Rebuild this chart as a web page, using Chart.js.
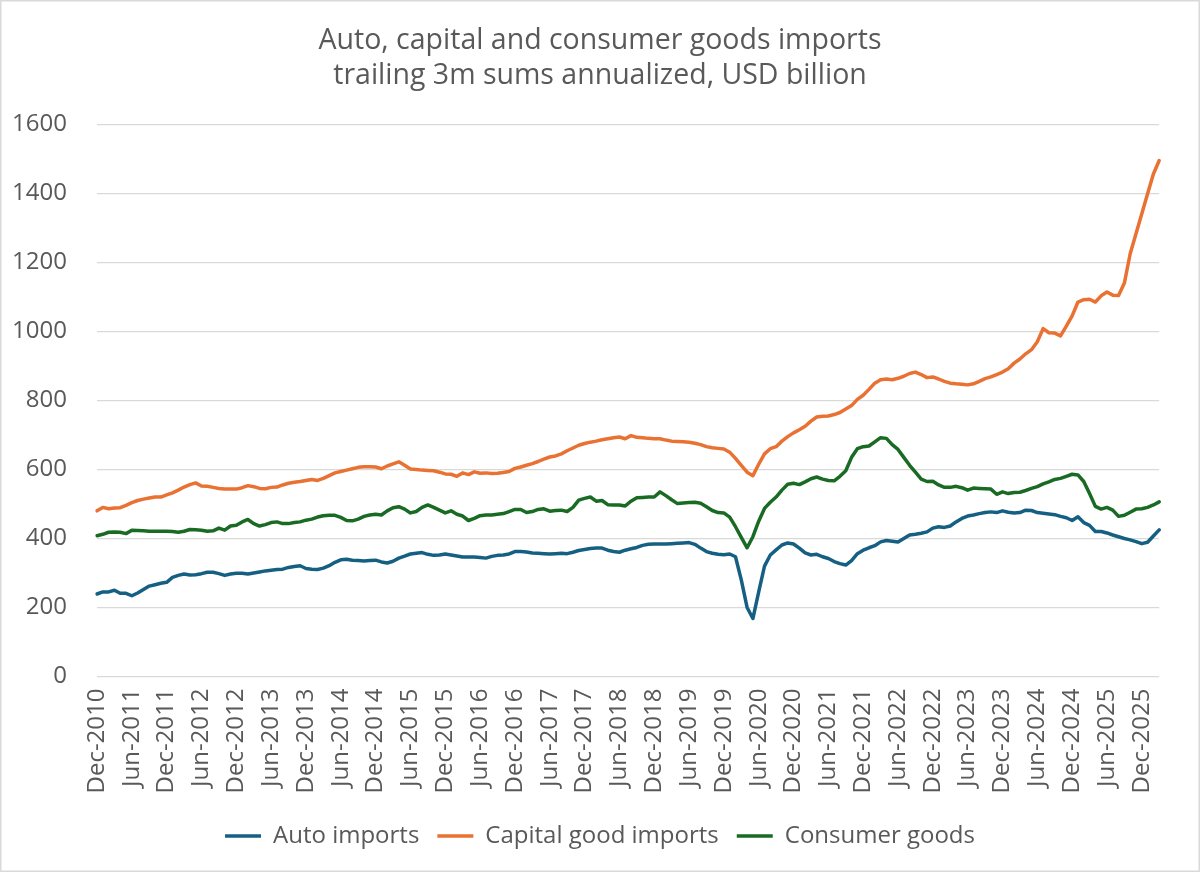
<!DOCTYPE html>
<html>
<head>
<meta charset="utf-8">
<script src="https://cdn.jsdelivr.net/npm/chart.js@4.4.1/dist/chart.umd.min.js"></script>
<style>
html,body{margin:0;padding:0;background:#fff;}
#wrap{width:1200px;height:872px;position:relative;}
canvas{display:block;}
</style>
</head>
<body>
<div id="wrap"><canvas id="c" width="1200" height="872"></canvas></div>
<script>
// ---- Data (USD billion, trailing 3m sums annualized), monthly Dec-2010 .. Mar-2026 ----
const titleLines = ['Auto, capital and consumer goods imports', 'trailing 3m sums annualized, USD billion'];
const seriesNames = ['Auto imports', 'Capital good imports', 'Consumer goods'];
const yTicks = [0, 200, 400, 600, 800, 1000, 1200, 1400, 1600];
const monthNames = ['Jan','Feb','Mar','Apr','May','Jun','Jul','Aug','Sep','Oct','Nov','Dec'];
const firstMonth = {year: 2010, month: 11}; // Dec-2010
const tickEvery = 6; // label every 6th month

const autoImports = [
  239,245,245,250,241,241,234,242,252,262,
  266,270,273,287,293,297,294,295,298,302,
  302,298,293,297,299,299,297,300,303,306,
  308,310,311,316,319,321,313,311,310,314,
  321,331,338,340,337,336,335,336,337,332,
  329,334,343,349,355,357,359,354,351,352,
  355,352,349,346,346,346,345,343,348,351,
  352,355,362,362,361,358,357,356,355,356,
  357,356,360,365,368,371,372,372,366,362,
  360,366,370,374,380,383,384,384,384,385,
  386,387,388,383,372,362,357,354,353,355,
  347,280,200,168,245,320,352,367,381,387,
  384,372,358,352,354,347,342,333,327,323,
  336,356,366,373,379,390,394,392,390,400,
  410,412,415,419,430,434,432,436,448,458,
  465,468,472,475,477,475,480,476,474,475,
  482,481,475,473,471,469,464,460,452,463,
  446,438,420,420,416,410,405,400,396,391,
  385,389,407,425
];
const capitalGoods = [
  480,490,486,488,489,496,504,510,514,517,
  520,520,526,532,540,549,556,561,552,551,
  548,545,543,543,543,547,553,550,545,544,
  548,549,555,560,563,565,568,571,568,574,
  582,590,594,598,602,606,608,608,607,602,
  610,616,622,612,601,600,598,597,596,592,
  587,586,580,590,585,593,589,590,588,589,
  591,594,603,607,612,617,623,630,636,639,
  645,654,662,670,675,679,682,686,689,692,
  694,689,698,693,692,690,689,689,685,682,
  681,680,679,676,672,666,663,661,659,650,
  632,612,592,582,615,645,660,666,682,695,
  706,715,725,740,752,754,755,759,765,775,
  785,803,815,832,850,860,862,860,864,870,
  878,882,875,866,868,862,855,850,848,847,
  845,848,855,863,868,875,882,892,908,920,
  935,947,970,1008,996,995,987,1015,1045,1085,
  1092,1093,1085,1103,1114,1105,1104,1140,1225,1283,
  1341,1399,1456,1495
];
const consumerGoods = [
  408,412,418,419,418,414,424,423,422,421,
  421,421,421,420,418,421,426,425,424,421,
  422,430,424,436,438,448,455,443,436,440,
  446,448,443,443,446,448,453,456,462,466,
  467,467,461,452,451,456,464,468,470,468,
  480,489,492,485,474,478,490,497,490,482,
  474,480,470,465,452,458,466,468,468,470,
  472,478,484,484,475,478,484,486,479,481,
  482,478,490,511,516,520,508,510,498,497,
  497,494,508,518,519,520,520,535,524,512,
  501,503,504,505,502,492,481,475,474,462,
  434,403,373,405,450,487,505,520,540,557,
  560,556,564,573,578,572,568,567,580,596,
  635,660,666,668,680,692,690,672,658,635,
  612,592,572,565,566,555,548,548,551,547,
  540,546,545,544,543,528,535,530,533,534,
  539,545,550,558,564,571,574,580,586,584,
  565,530,493,485,490,482,464,467,476,485,
  486,490,497,506
];

const categories = [];
for (let i = 0; i < autoImports.length; i++) {
  const k = firstMonth.month + i;
  categories.push(monthNames[k % 12] + '-' + (firstMonth.year + Math.floor(k / 12)));
}

// ---- Styling ----
const FONT = '"Open Sans", "Noto Sans", sans-serif';
const TEXT = '#595959';
const GRID = '#d9d9d9';
const colors = ['#156082', '#E97132', '#196B24'];

const frame = {
  id: 'frame',
  beforeDraw(chart) {
    const ctx = chart.ctx;
    ctx.save();
    ctx.fillStyle = '#ffffff';
    ctx.fillRect(0, 0, chart.width, chart.height);
    ctx.restore();
  },
  afterDraw(chart) {
    const ctx = chart.ctx;
    ctx.save();
    ctx.strokeStyle = GRID;
    ctx.lineWidth = 1.5;
    ctx.strokeRect(0.75, 0.75, chart.width - 1.5, chart.height - 1.5);
    ctx.restore();
  }
};

const seriesData = [autoImports, capitalGoods, consumerGoods];

new Chart(document.getElementById('c'), {
  type: 'line',
  data: {
    labels: categories,
    datasets: seriesNames.map((name, i) => ({
      label: name,
      data: seriesData[i],
      borderColor: colors[i],
      backgroundColor: colors[i],
      borderWidth: 3.5,
      pointRadius: 0,
      tension: 0,
      borderJoinStyle: 'round',
      borderCapStyle: 'round',
      fill: false
    }))
  },
  options: {
    responsive: false,
    animation: false,
    devicePixelRatio: 1,
    layout: {padding: {left: 0, right: 0, top: 0, bottom: 14}},
    plugins: {
      tooltip: {enabled: false},
      title: {
        display: true,
        text: titleLines,
        color: TEXT,
        font: {family: FONT, size: 28.5, weight: 'normal', lineHeight: 1.23},
        padding: {top: 23.5, bottom: 30.7}
      },
      legend: {
        display: true,
        position: 'bottom',
        labels: {
          usePointStyle: true,
          pointStyle: 'line',
          pointStyleWidth: 36,
          color: TEXT,
          padding: 18,
          font: {family: FONT, size: 24}
        }
      }
    },
    scales: {
      x: {
        type: 'category',
        offset: false,
        grid: {display: false, drawTicks: false},
        border: {display: false},
        ticks: {
          autoSkip: false,
          maxRotation: 90,
          minRotation: 90,
          padding: 12,
          color: TEXT,
          font: {family: FONT, size: 24},
          callback: (v, idx) => (idx % tickEvery === 0 ? categories[idx] : '')
        },
        afterFit: s => { s.height = 129.5; }
      },
      y: {
        position: 'left',
        min: yTicks[0],
        max: yTicks[yTicks.length - 1],
        afterBuildTicks: s => { s.ticks = yTicks.map(v => ({value: v})); },
        grid: {color: GRID, lineWidth: 1.3, drawTicks: false},
        border: {display: false},
        ticks: {
          padding: 30,
          color: TEXT,
          font: {family: FONT, size: 24},
          callback: v => String(v)
        },
        afterFit: s => { s.width = 97; }
      },
      yRight: {
        position: 'right',
        display: true,
        grid: {display: false, drawTicks: false},
        border: {display: false},
        ticks: {display: false},
        afterFit: s => { s.width = 23; }
      }
    }
  },
  plugins: [frame]
});
</script>
</body>
</html>
